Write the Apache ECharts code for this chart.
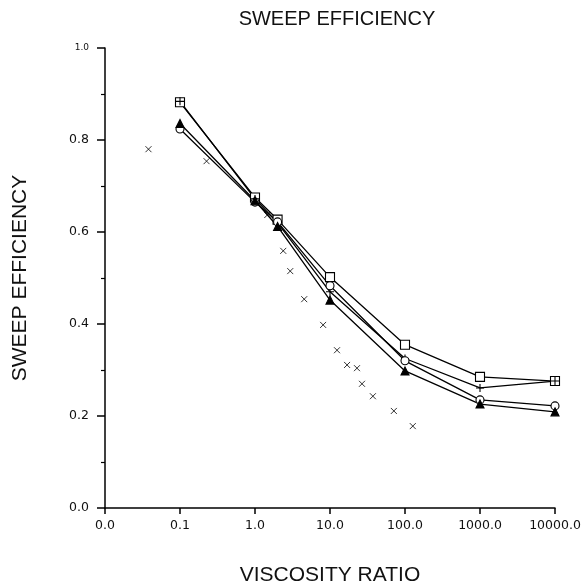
<!DOCTYPE html>
<html>
<head>
<meta charset="utf-8" />
<title>Sweep efficiency</title>
<script src="https://cdn.jsdelivr.net/npm/echarts@6/dist/echarts.min.js"></script>
<style>
  html, body { margin: 0; padding: 0; background: #fff; }
</style>
</head>
<body>
<div id="main" style="width:584px;height:586px"></div>
<script>
// viscosity ratio for the four lined series
var ratios = [0.1, 1, 2, 10, 100, 1000, 10000];

// sweep efficiency per series
var squareVals   = [0.882, 0.675, 0.627, 0.502, 0.355, 0.285, 0.276];
var plusVals     = [0.884, 0.672, 0.620, 0.470, 0.325, 0.261, 0.276];
var circleVals   = [0.824, 0.665, 0.622, 0.483, 0.320, 0.235, 0.222];
var triangleVals = [0.836, 0.668, 0.612, 0.452, 0.298, 0.226, 0.209];

// the scattered x points (no line)
var crossX = [0.038, 0.226, 1.46, 2.38, 2.95, 4.53, 8.1, 12.4, 16.9, 22.9, 26.7, 37.3, 71, 127];
var crossY = [0.780, 0.754, 0.637, 0.559, 0.515, 0.454, 0.398, 0.343, 0.311, 0.304, 0.270, 0.243, 0.211, 0.178];

var font = 'Liberation Sans';
var tickFont = 'DejaVu Sans';

function pairs(xs, ys) {
  var out = [];
  for (var i = 0; i < xs.length; i++) out.push([xs[i], ys[i]]);
  return out;
}

var plusPath = 'path://M0,5 L10,5 M5,0 L5,10';
var crossPath = 'path://M0,0 L10,10 M10,0 L0,10';

function lineSeries(name, vals, symbol, size, filled) {
  return {
    name: name,
    type: 'line',
    data: pairs(ratios, vals),
    symbol: symbol,
    symbolSize: size,
    showAllSymbol: true,
    lineStyle: { color: '#000', width: 1.3 },
    itemStyle: {
      color: filled ? '#000' : '#fff',
      borderColor: '#000',
      borderWidth: 1.1
    },
    z: 3
  };
}

var option = {
  animation: false,
  backgroundColor: '#fff',
  title: {
    text: 'SWEEP EFFICIENCY',
    left: 332,
    top: 4,
    textAlign: 'center',
    textStyle: { fontFamily: font, fontSize: 20, fontWeight: 'normal', color: '#111' }
  },
  grid: { left: 105, right: 29, top: 48, bottom: 78, outerBoundsMode: 'none' },
  xAxis: {
    type: 'log',
    logBase: 10,
    min: 0.01,
    max: 10000,
    name: 'VISCOSITY RATIO',
    nameLocation: 'middle',
    nameGap: 57,
    nameTextStyle: { fontFamily: font, fontSize: 21, color: '#111' },
    axisLine: { lineStyle: { color: '#000', width: 1.5 } },
    axisTick: { length: 6, lineStyle: { color: '#000', width: 1.5 } },
    axisLabel: {
      margin: 11,
      fontFamily: tickFont,
      fontSize: 12.5,
      color: '#111',
      formatter: function (v) { return v.toFixed(1); }
    },
    splitLine: { show: false }
  },
  yAxis: {
    type: 'value',
    min: 0,
    max: 1,
    interval: 0.2,
    name: 'SWEEP EFFICIENCY',
    nameLocation: 'middle',
    nameGap: 74,
    nameRotate: 90,
    nameTextStyle: { fontFamily: font, fontSize: 21, color: '#111' },
    axisLine: { show: true, lineStyle: { color: '#000', width: 1.5 } },
    axisTick: { show: true, length: 8, lineStyle: { color: '#000', width: 1.5 } },
    minorTick: { show: true, splitNumber: 2, length: 4, lineStyle: { color: '#000', width: 1.2 } },
    axisLabel: {
      margin: 16,
      fontFamily: tickFont,
      fontSize: 12.5,
      color: '#111',
      formatter: function (v) {
        return v >= 1 ? '{s|' + v.toFixed(1) + '}' : v.toFixed(1);
      },
      rich: { s: { fontFamily: tickFont, fontSize: 9, color: '#111' } }
    },
    splitLine: { show: false }
  },
  series: [
    lineSeries('square', squareVals, 'rect', 9, false),
    lineSeries('plus', plusVals, plusPath, 8, false),
    lineSeries('circle', circleVals, 'circle', 8, false),
    lineSeries('triangle', triangleVals, 'triangle', 8, true),
    {
      name: 'cross',
      type: 'scatter',
      data: pairs(crossX, crossY),
      symbol: crossPath,
      symbolSize: 6,
      itemStyle: { color: 'none', borderColor: '#000', borderWidth: 1 },
      z: 2
    }
  ]
};

var myChart = echarts.init(document.getElementById('main'));
myChart.setOption(option);
</script>
</body>
</html>
